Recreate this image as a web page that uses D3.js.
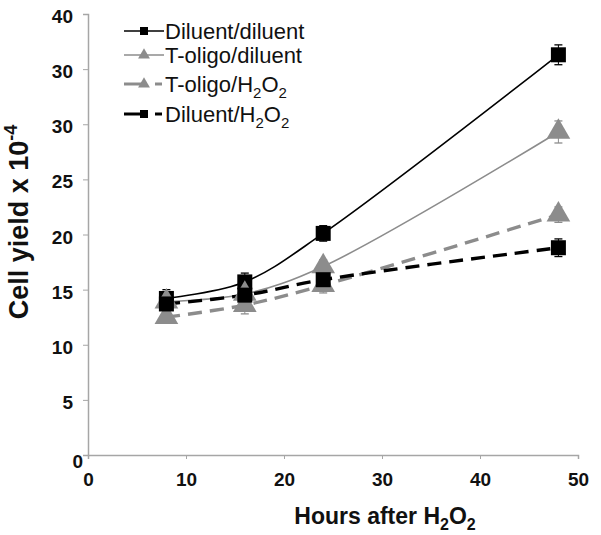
<!DOCTYPE html>
<html>
<head>
<meta charset="utf-8">
<script src="https://cdn.jsdelivr.net/npm/d3@7"></script>
<style>
  body { margin: 0; background: #fff; }
  svg { font-family: "Liberation Sans", Arial, sans-serif; }
</style>
</head>
<body>
<div id="chart"></div>
<script>
// data
var hours = [8, 16, 24, 48];
var seriesNames = ["Diluent/diluent", "T-oligo/diluent", "T-oligo/H2O2", "Diluent/H2O2"];
var dilDil = [14.2, 15.7, 20.1, 36.3];
var oligoDil = [13.9, 14.6, 17.1, 29.3];
var oligoH2O2 = [12.5, 13.6, 15.4, 21.8];
var dilH2O2 = [13.7, 14.5, 15.9, 18.8];
var dilDilErr = [0.8, 0.8, 0.7, 0.9];
var oligoDilErr = [0.5, 0.6, 0.6, 1.0];
var oligoH2O2Err = [0.4, 0.8, 0.7, 0.7];
var dilH2O2Err = [0.5, 0.6, 0.7, 0.8];
var xTicks = [0, 10, 20, 30, 40, 50];
var yTicks = [0, 5, 10, 15, 20, 25, 30, 35, 40];
var yTickLabels = ["0", "5", "10", "15", "20", "25", "30", "30", "40"];

var W = 601, H = 535;
var margin = { top: 14, right: 23, bottom: 80, left: 88 };

var svg = d3.select("#chart").append("svg")
    .attr("width", W)
    .attr("height", H);

var x = d3.scaleLinear().domain([0, 50]).range([margin.left, W - margin.right]);
var y = d3.scaleLinear().domain([0, 40]).range([H - margin.bottom, margin.top]);

//series styles
var series = [
    { name: seriesNames[0], vals: dilDil, err: dilDilErr, color: "#000", width: 1.6, dash: null, shape: "square" },
    { name: seriesNames[1], vals: oligoDil, err: oligoDilErr, color: "#8c8c8c", width: 1.6, dash: null, shape: "triangle" },
    { name: seriesNames[2], vals: oligoH2O2, err: oligoH2O2Err, color: "#8c8c8c", width: 3.4, dash: "14,8", shape: "triangle" },
    { name: seriesNames[3], vals: dilH2O2, err: dilH2O2Err, color: "#000", width: 3.4, dash: "14,8", shape: "square" }
];

//axes
var xAxis = svg.append("g")
    .attr("transform", "translate(0," + y(0) + ")")
    .call(d3.axisBottom(x).tickValues(xTicks).tickSize(4).tickPadding(14));
var yAxis = svg.append("g")
    .attr("transform", "translate(" + x(0) + ",0)")
    .call(d3.axisLeft(y).tickValues(yTicks).tickSize(5).tickPadding(10)
        .tickFormat(function (d, i) { return yTickLabels[i]; }));

[xAxis, yAxis].forEach(function (g) {
    g.select(".domain").attr("stroke", "#a6a6a6").attr("stroke-width", 1.5);
    g.selectAll(".tick line").attr("stroke", "#a6a6a6");
    g.selectAll(".tick text")
        .attr("fill", "#111")
        .style("font-size", "19px")
        .style("font-weight", "bold");
});
yAxis.selectAll(".tick text").attr("dy", "0.45em");
// the zero label sits a bit lower and to the right in the original
yAxis.selectAll(".tick text").filter(function (d) { return d === 0; })
    .attr("transform", "translate(10,4)");

//axis titles
var xt = svg.append("text")
    .attr("x", 385)
    .attr("y", 524)
    .attr("text-anchor", "middle")
    .style("font-size", "23px")
    .style("font-weight", "bold")
    .attr("fill", "#111");
xt.append("tspan").text("Hours after H");
xt.append("tspan").attr("dy", 6).style("font-size", "16px").text("2");
xt.append("tspan").attr("dy", -6).text("O");
xt.append("tspan").attr("dy", 6).style("font-size", "16px").text("2");

var yt = svg.append("text")
    .attr("transform", "translate(28,222) rotate(-90)")
    .attr("text-anchor", "middle")
    .style("font-size", "27px")
    .style("font-weight", "bold")
    .attr("fill", "#111");
yt.append("tspan").text("Cell yield x 10");
yt.append("tspan").attr("dy", -11).style("font-size", "18px").text("-4");

//error bars
series.forEach(function (s) {
    var g = svg.append("g");
    hours.forEach(function (h, i) {
        var cx = x(h), top = y(s.vals[i] + s.err[i]), bot = y(s.vals[i] - s.err[i]);
        g.append("line").attr("x1", cx).attr("x2", cx).attr("y1", top).attr("y2", bot)
            .attr("stroke", s.color).attr("stroke-width", 1);
        [top, bot].forEach(function (yy) {
            g.append("line").attr("x1", cx - 4).attr("x2", cx + 4).attr("y1", yy).attr("y2", yy)
                .attr("stroke", s.color).attr("stroke-width", 1.3);
        });
    });
});

//lines
var line = d3.line()
    .x(function (d, i) { return x(hours[i]); })
    .y(function (d) { return y(d); })
    .curve(d3.curveCatmullRom.alpha(0.5));

series.forEach(function (s) {
    svg.append("path")
        .datum(s.vals)
        .attr("d", line)
        .attr("fill", "none")
        .attr("stroke", s.color)
        .attr("stroke-width", s.width)
        .attr("stroke-dasharray", s.dash);
});

//markers
function marker(g, shape, cx, cy, color, size) {
    if (shape === "square") {
        g.append("rect")
            .attr("x", cx - size / 2).attr("y", cy - size / 2)
            .attr("width", size).attr("height", size)
            .attr("fill", color);
    } else {
        g.append("path")
            .attr("d", d3.symbol().type(d3.symbolTriangle).size(size * size * 0.75)())
            .attr("transform", "translate(" + cx + "," + cy + ")")
            .attr("fill", color);
    }
}

series.forEach(function (s) {
    var g = svg.append("g");
    hours.forEach(function (h, i) {
        marker(g, s.shape, x(h), y(s.vals[i]), s.color, s.shape === "square" ? 15 : 18);
    });
});

//legend
var legendY = [31, 55, 84, 114];
series.forEach(function (s, i) {
    var g = svg.append("g").attr("transform", "translate(0," + legendY[i] + ")");
    if (s.dash) {
        g.append("line").attr("x1", 124).attr("x2", 146).attr("y1", 0).attr("y2", 0)
            .attr("stroke", s.color).attr("stroke-width", 3);
        g.append("line").attr("x1", 155).attr("x2", 162).attr("y1", 0).attr("y2", 0)
            .attr("stroke", s.color).attr("stroke-width", 3);
    } else {
        g.append("line").attr("x1", 124).attr("x2", 164).attr("y1", 0).attr("y2", 0)
            .attr("stroke", s.color).attr("stroke-width", s.width);
    }
    marker(g, s.shape, 144, 0, s.color, s.shape === "square" ? 8 : 9);

    var t = g.append("text")
        .attr("x", 165)
        .attr("y", 8)
        .style("font-size", "22px")
        .attr("fill", "#111");
    if (s.name.indexOf("H2O2") > 0) {
        t.append("tspan").text(s.name.replace("H2O2", "H"));
        t.append("tspan").attr("dy", 6).style("font-size", "15px").text("2");
        t.append("tspan").attr("dy", -6).text("O");
        t.append("tspan").attr("dy", 6).style("font-size", "15px").text("2");
    } else {
        t.text(s.name);
    }
});
</script>
</body>
</html>
